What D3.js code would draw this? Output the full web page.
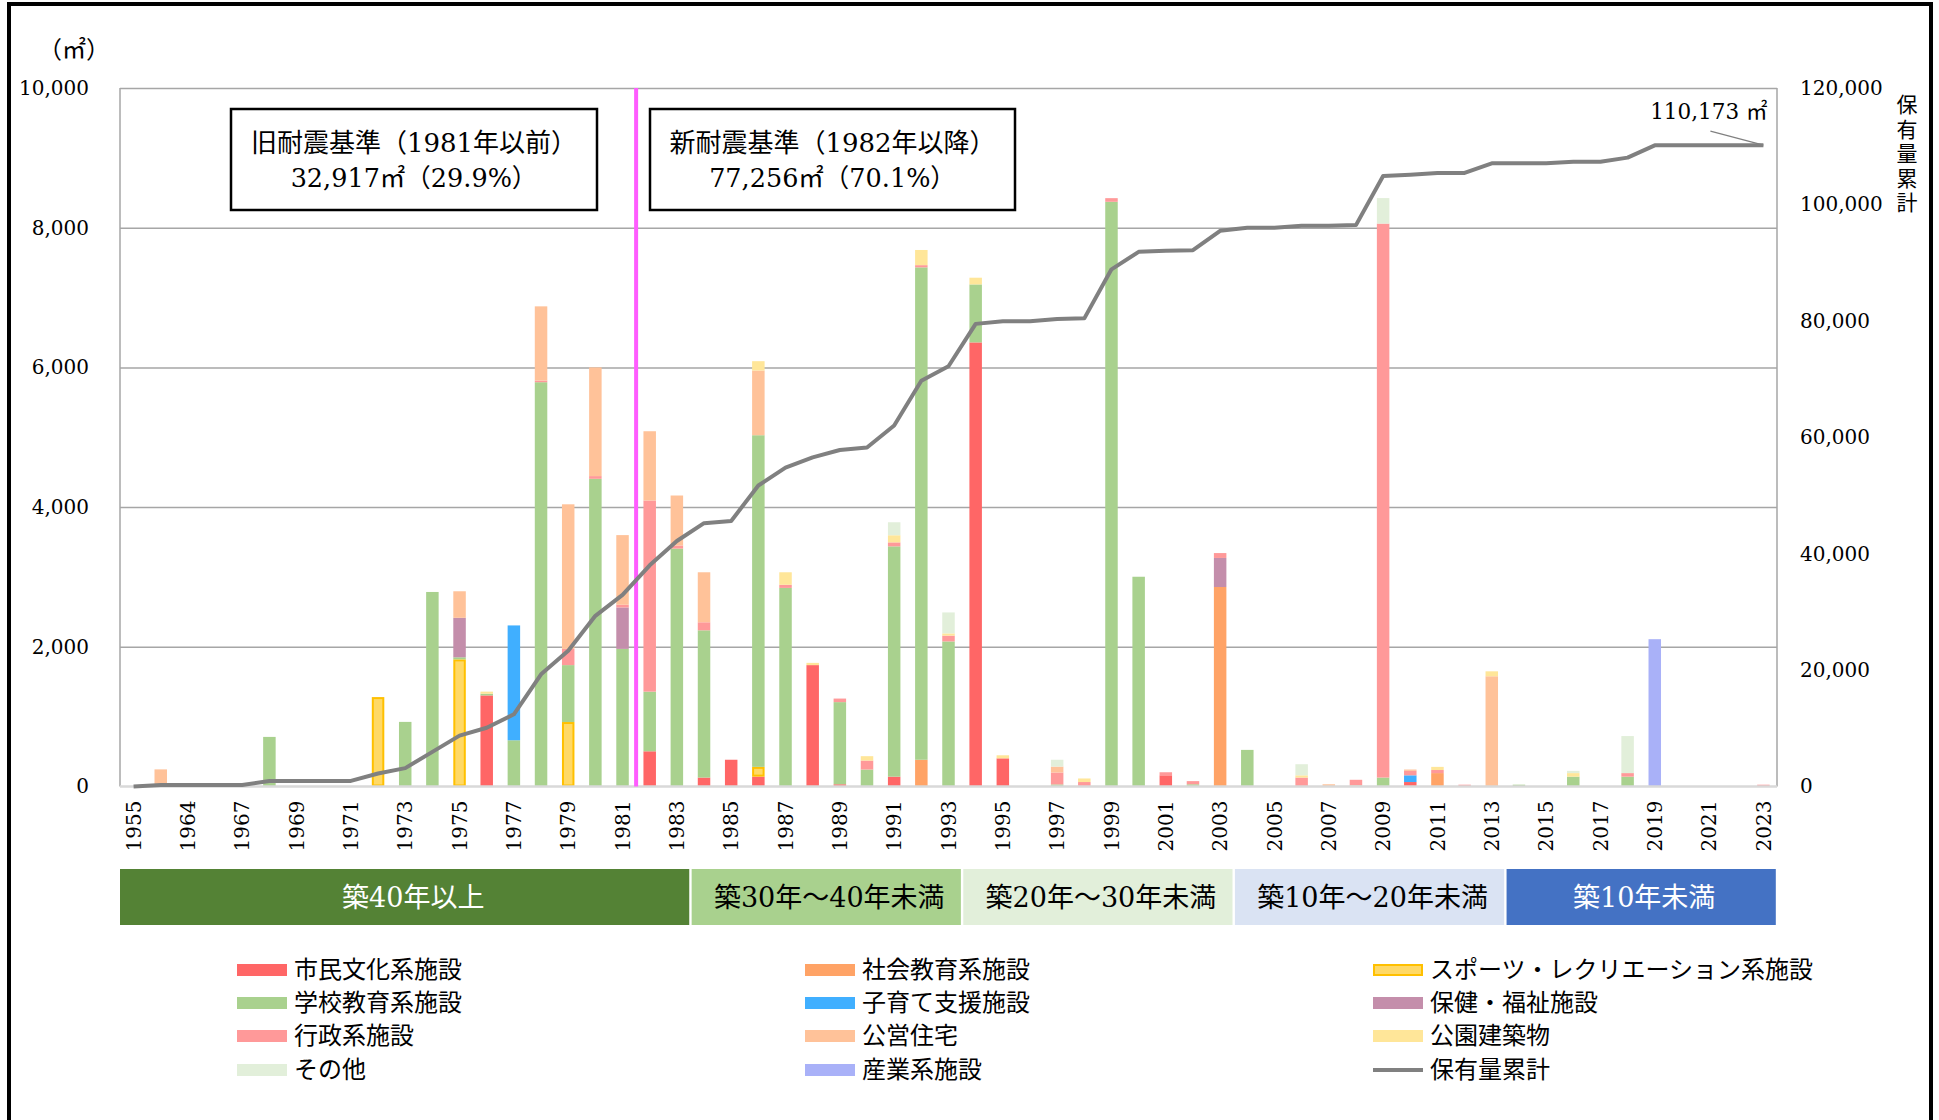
<!DOCTYPE html>
<html>
<head>
<meta charset="utf-8">
<script src="https://cdn.jsdelivr.net/npm/d3@7"></script>
<style>
  body { margin: 0; background: #fff; }
  text { font-family: "DejaVu Serif", "Noto Sans CJK JP", serif; fill: #000; }
  .jp { font-family: "Noto Sans CJK JP", sans-serif; }
</style>
</head>
<body>
<div id="chart"></div>
<script>
// 築年別 延床面積（㎡）と保有量累計

// categories (years) - labels shown every other one
var years = ["1955","1963","1964","1966","1967","1968","1969","1970","1971","1972",
  "1973","1974","1975","1976","1977","1978","1979","1980","1981","1982",
  "1983","1984","1985","1986","1987","1988","1989","1990","1991","1992",
  "1993","1994","1995","1996","1997","1998","1999","2000","2001","2002",
  "2003","2004","2005","2006","2007","2008","2009","2010","2011","2012",
  "2013","2014","2015","2016","2017","2018","2019","2020","2021","2022","2023"];

// floor area per year by facility type (㎡)
var civic = [0,0,0,0,0,0,0,0,0,0,
  0,0,0,1304,0,0,0,0,0,504,
  0,128,383,141,0,1738,32,0,141,0,
  0,6358,403,0,0,0,0,0,160,0,
  0,0,0,0,0,0,0,64,0,0,
  0,0,0,0,0,0,0,0,0,0,0];
var socialEdu = [0,0,0,0,0,0,0,0,0,0,
  0,0,0,0,0,0,0,0,0,0,
  0,0,0,0,0,0,0,0,0,383,
  0,0,0,0,0,0,0,0,0,0,
  2856,0,0,0,0,0,0,0,192,0,
  0,0,0,0,0,0,0,0,0,0,0];
var sports = [0,0,0,0,0,0,0,0,0,1280,
  0,0,1820,0,0,0,923,0,0,0,
  0,0,0,140,0,0,0,0,0,0,
  0,0,0,0,0,0,0,0,0,0,
  0,0,0,0,0,0,0,0,0,0,
  0,0,0,0,0,0,0,0,0,0,0];
var school = [0,0,0,0,0,710,0,0,0,0,
  925,2785,30,24,662,5788,815,4405,1970,854,
  3406,2108,0,4748,2843,0,1176,243,3297,7049,
  2077,830,0,0,30,0,8371,3003,0,32,
  0,524,0,0,0,16,128,0,0,0,
  0,26,0,141,0,141,0,0,0,0,0];
var childcare = [0,0,0,0,0,0,0,0,0,0,
  0,0,0,0,1644,0,0,0,0,0,
  0,0,0,0,0,0,0,0,0,0,
  0,0,0,0,0,0,0,0,0,0,
  0,0,0,0,0,0,0,96,0,0,
  0,0,0,0,0,0,0,0,0,0,0];
var welfare = [0,0,0,0,0,0,0,0,0,0,
  0,0,565,0,0,0,0,0,593,0,
  0,0,0,0,0,0,0,0,0,0,
  0,0,0,0,0,0,0,0,0,0,
  416,0,0,0,0,0,0,0,0,0,
  0,0,0,0,0,0,0,0,0,0,0];
var admin = [0,0,0,0,0,0,0,0,0,0,
  0,0,0,0,0,24,232,39,39,2736,
  44,115,0,0,45,0,51,128,57,32,
  83,0,0,0,170,64,52,0,44,45,
  70,0,0,128,0,80,7931,64,44,26,
  0,0,0,0,0,51,0,0,0,0,26];
var housing = [0,245,0,0,0,0,0,0,0,0,
  0,0,380,0,0,1062,2070,1556,997,992,
  716,716,0,926,0,0,0,0,0,0,
  0,0,0,0,85,0,0,0,0,0,
  0,0,0,0,32,0,0,19,0,0,
  1578,0,0,0,0,0,0,0,0,0,0];
var park = [0,0,0,0,0,0,0,0,0,0,
  0,0,0,30,0,0,0,0,0,0,
  0,0,0,134,179,32,0,63,102,217,
  32,96,44,0,0,51,0,0,0,0,
  0,0,0,32,0,0,0,0,45,0,
  71,0,0,51,0,0,0,0,0,0,0];
var other = [0,0,0,0,0,0,0,0,0,0,
  0,0,0,0,0,0,0,0,0,0,
  0,0,0,0,0,0,0,0,186,0,
  300,0,0,0,98,0,0,0,0,0,
  0,0,0,159,0,0,365,0,0,0,
  0,0,0,32,0,530,0,0,0,0,0];
var industry = [0,0,0,0,0,0,0,0,0,0,
  0,0,0,0,0,0,0,0,0,0,
  0,0,0,0,0,0,0,0,0,0,
  0,0,0,0,0,0,0,0,0,0,
  0,0,0,0,0,0,0,0,0,0,
  0,0,0,0,0,0,2109,0,0,0,0];

// 保有量累計 (right axis)
var cumulative = [0,245,245,245,245,955,955,955,955,2235,
  3160,5945,8740,10098,12404,19278,23318,29318,32917,38003,
  42169,45236,45619,51708,54775,56545,57804,58238,62021,69702,
  72194,79478,79925,79925,80308,80423,88846,91849,92053,92130,
  95472,95996,95996,96315,96347,96443,104867,105110,105391,105417,
  107066,107092,107092,107316,107316,108038,110147,110147,110147,110147,110173];

var seriesNames = ["市民文化系施設","社会教育系施設","スポーツ・レクリエーション系施設","学校教育系施設",
  "子育て支援施設","保健・福祉施設","行政系施設","公営住宅","公園建築物","その他","産業系施設"];
var seriesValues = [civic, socialEdu, sports, school, childcare, welfare, admin, housing, park, other, industry];
var seriesColors = ["#FF6666","#FFA366","#FFD966","#A9D18E","#40AFFF","#C48EAB",
  "#FF9999","#FFC299","#FFE699","#E2EFDA","#A9B1F8"];

var leftTicks = [0,2000,4000,6000,8000,10000];
var rightTicks = [0,20000,40000,60000,80000,100000,120000];

// age bands under the axis
var bandLabels = ["築40年以上","築30年～40年未満","築20年～30年未満","築10年～20年未満","築10年未満"];
var bandFrom = ["1955","1984","1994","2004","2014"];
var bandTo = ["1983","1993","2003","2013","2023"];
var bandFill = ["#548235","#A9D18E","#E2EFDA","#DAE3F3","#4472C4"];
var bandText = ["#fff","#000","#000","#000","#fff"];

var oldText = ["旧耐震基準（1981年以前）","32,917㎡（29.9%）"];
var newText = ["新耐震基準（1982年以降）","77,256㎡（70.1%）"];

//////////////////////////////////////////////////

var W = 1939, H = 1120;
var margin = {top: 88, right: 162, bottom: 333.5, left: 120},
  width = W - margin.left - margin.right,
  height = H - margin.top - margin.bottom;

var svg = d3.select("#chart")
  .append("svg")
    .attr("width", W)
    .attr("height", H);

// outer frame
svg.append("rect")
  .attr("x", 9).attr("y", 4)
  .attr("width", 1922).attr("height", 1200)
  .attr("fill", "none")
  .attr("stroke", "#000")
  .attr("stroke-width", 4);

var g = svg.append("g")
  .attr("transform", "translate(" + margin.left + "," + margin.top + ")");

// scales
var slot = d3.scaleBand().domain(years).range([0, width]).padding(0);
var x = d3.scaleBand().domain(years).range([0, width]).paddingInner(0.54).paddingOuter(0.27);
var yL = d3.scaleLinear().domain([0, 10000]).range([height, 0]);
var yR = d3.scaleLinear().domain([0, 120000]).range([height, 0]);

// gridlines
g.append("g")
  .attr("class", "grid")
  .call(d3.axisLeft(yL).tickValues(leftTicks.slice(1)).tickSize(-width).tickFormat(""))
  .call(function(s) {
    s.select(".domain").remove();
    s.selectAll("line").attr("stroke", "#A6A6A6").attr("stroke-width", 1.5);
  });

// plot side borders
g.append("line").attr("x1", 0).attr("x2", 0).attr("y1", 0).attr("y2", height)
  .attr("stroke", "#A6A6A6").attr("stroke-width", 1.5);
g.append("line").attr("x1", width).attr("x2", width).attr("y1", 0).attr("y2", height)
  .attr("stroke", "#A6A6A6").attr("stroke-width", 1.5);

// stacked bars
var table = years.map(function(yr, i) {
  var row = {year: yr};
  seriesValues.forEach(function(arr, k) { row["s" + k] = arr[i]; });
  return row;
});
var keys = seriesNames.map(function(d, k) { return "s" + k; });
var stacked = d3.stack().keys(keys)(table);

stacked.forEach(function(layer, k) {
  var isSport = (k === 2);
  g.append("g")
    .selectAll("rect")
    .data(layer.filter(function(d) { return d[1] - d[0] > 0; }))
    .enter()
    .append("rect")
      .attr("x", function(d) { return x(d.data.year) + (isSport ? 1 : 0); })
      .attr("y", function(d) { return yL(d[1]) + (isSport ? 1 : 0); })
      .attr("width", x.bandwidth() - (isSport ? 2 : 0))
      .attr("height", function(d) { return Math.max(0, yL(d[0]) - yL(d[1]) - (isSport ? 2 : 0)); })
      .attr("fill", seriesColors[k])
      .attr("stroke", isSport ? "#FFC000" : "none")
      .attr("stroke-width", isSport ? 2 : 0);
});

// baseline
g.append("line").attr("x1", 0).attr("x2", width).attr("y1", height).attr("y2", height)
  .attr("stroke", "#D9D9D9").attr("stroke-width", 2.5);

// dividing line (old / new standard)
var divX = slot("1982");
g.append("line")
  .attr("x1", divX).attr("x2", divX)
  .attr("y1", 0).attr("y2", height)
  .attr("stroke", "#FF5CFF").attr("stroke-width", 4);

// cumulative line
var line = d3.line()
  .x(function(d, i) { return x(years[i]) + x.bandwidth() / 2; })
  .y(function(d) { return yR(d); });

g.append("path")
  .datum(cumulative)
  .attr("fill", "none")
  .attr("stroke", "#808080")
  .attr("stroke-width", 4)
  .attr("stroke-linejoin", "round")
  .attr("d", line);

// end label
var lastX = x(years[years.length - 1]) + x.bandwidth() / 2;
var lastY = yR(cumulative[cumulative.length - 1]);
g.append("line")
  .attr("x1", lastX - 53).attr("y1", lastY - 14)
  .attr("x2", lastX).attr("y2", lastY)
  .attr("stroke", "#808080").attr("stroke-width", 1.2);
g.append("text")
  .attr("x", lastX + 4).attr("y", lastY - 26)
  .attr("text-anchor", "end")
  .style("font-size", "21.5px")
  .text("110,173 ㎡");

// left axis
g.append("g")
  .call(d3.axisLeft(yL).tickValues(leftTicks).tickSize(0).tickPadding(31).tickFormat(d3.format(",")))
  .call(function(s) {
    s.select(".domain").remove();
    s.selectAll("text").style("font-size", "20px").style("font-family", "DejaVu Serif").attr("fill", "#000");
  });

// right axis
g.append("g")
  .attr("transform", "translate(" + width + ",0)")
  .call(d3.axisRight(yR).tickValues(rightTicks).tickSize(0).tickPadding(23).tickFormat(d3.format(",")))
  .call(function(s) {
    s.select(".domain").remove();
    s.selectAll("text").style("font-size", "20px").style("font-family", "DejaVu Serif").attr("fill", "#000");
  });

// x axis
g.append("g")
  .attr("transform", "translate(0," + height + ")")
  .call(d3.axisBottom(x).tickValues(years.filter(function(d, i) { return i % 2 === 0; })).tickSize(0))
  .call(function(s) {
    s.select(".domain").remove();
    s.selectAll("text")
      .attr("transform", "rotate(-90)")
      .attr("x", -14).attr("y", 0).attr("dy", "0.36em")
      .attr("text-anchor", "end")
      .style("font-size", "20px").style("font-family", "DejaVu Serif").attr("fill", "#000");
  });

// unit label
svg.append("text")
  .attr("x", 74).attr("y", 58)
  .attr("text-anchor", "middle")
  .style("font-size", "24px")
  .text("（㎡）");

// right axis title, vertical writing
svg.append("text")
  .attr("class", "jp")
  .attr("x", 1907).attr("y", 94)
  .style("writing-mode", "vertical-rl")
  .style("font-size", "21px")
  .style("letter-spacing", "3.5px")
  .text("保有量累計");

// annotation boxes
function noteBox(x0, x1, lines) {
  svg.append("rect")
    .attr("x", x0).attr("y", 109)
    .attr("width", x1 - x0).attr("height", 101)
    .attr("fill", "#fff")
    .attr("stroke", "#000").attr("stroke-width", 2.5);
  svg.append("text")
    .attr("x", (x0 + x1) / 2).attr("y", 152)
    .attr("text-anchor", "middle")
    .style("font-size", "26px")
    .text(lines[0]);
  svg.append("text")
    .attr("x", (x0 + x1) / 2).attr("y", 187)
    .attr("text-anchor", "middle")
    .style("font-size", "25.5px")
    .text(lines[1]);
}
noteBox(231, 597, oldText);
noteBox(650, 1015, newText);

// age bands
var bands = svg.append("g").attr("transform", "translate(" + margin.left + ",869)");
bandLabels.forEach(function(lbl, i) {
  var b0 = slot(bandFrom[i]), b1 = slot(bandTo[i]) + slot.bandwidth();
  bands.append("rect")
    .attr("x", b0 + (i === 0 ? 0 : 1.2))
    .attr("y", 0)
    .attr("width", b1 - b0 - (i === 0 ? 1.2 : 2.4))
    .attr("height", 56)
    .attr("fill", bandFill[i]);
  bands.append("text")
    .attr("x", (b0 + b1) / 2 + (i === 0 ? 8 : 3)).attr("y", 28).attr("dy", "0.36em")
    .attr("text-anchor", "middle")
    .style("font-size", "27px")
    .style("fill", bandText[i])
    .text(lbl);
});

// legend
var legendItems = seriesNames.concat(["保有量累計"]);
var colX = [237, 805, 1373];
var rowY = [970, 1003, 1036, 1070];
var legend = svg.selectAll(".legend")
  .data(legendItems)
  .enter()
  .append("g")
  .attr("class", "legend")
  .attr("transform", function(d, i) {
    return "translate(" + colX[i % 3] + "," + rowY[Math.floor(i / 3)] + ")";
  });

legend.each(function(d, i) {
  var el = d3.select(this);
  if (i === legendItems.length - 1) {
    el.append("line").attr("x1", 0).attr("x2", 50).attr("y1", 0).attr("y2", 0)
      .attr("stroke", "#808080").attr("stroke-width", 4);
  } else {
    el.append("rect")
      .attr("x", i === 2 ? 1 : 0).attr("y", -6 + (i === 2 ? 1 : 0))
      .attr("width", i === 2 ? 48 : 50).attr("height", i === 2 ? 10 : 12)
      .attr("fill", seriesColors[i])
      .attr("stroke", i === 2 ? "#FFC000" : "none")
      .attr("stroke-width", i === 2 ? 2 : 0);
  }
  el.append("text")
    .attr("class", "jp")
    .attr("x", 57).attr("y", 0).attr("dy", "0.35em")
    .style("font-size", "24px")
    .text(d);
});
</script>
</body>
</html>
